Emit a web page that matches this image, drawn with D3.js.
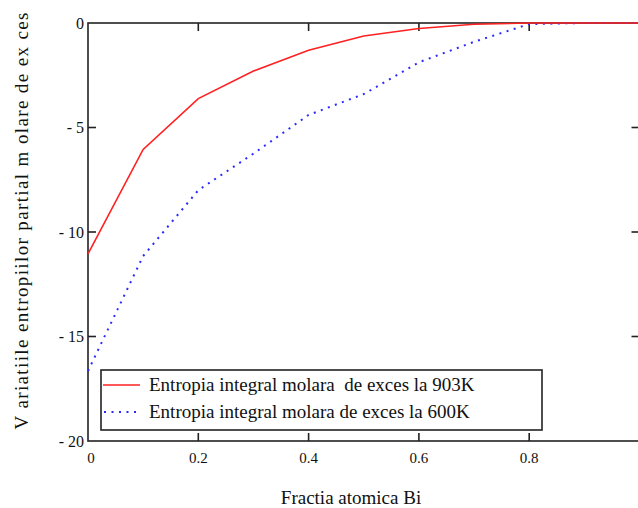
<!DOCTYPE html>
<html>
<head>
<meta charset="utf-8">
<script src="https://cdn.jsdelivr.net/npm/d3@7"></script>
</head>
<body style="margin:0;overflow:hidden;background:#fff">
<svg id="chart" width="638" height="508" style="display:block"></svg>
<script>
// ---- data ----
const xFrac = [0, 0.1, 0.2, 0.3, 0.4, 0.5, 0.6, 0.7, 0.8, 0.9, 1.0];
const s903 = [-11.05, -6.05, -3.62, -2.3, -1.3, -0.62, -0.26, -0.06, 0, 0, 0];
const s600 = [-16.65, -11.15, -8.0, -6.25, -4.4, -3.4, -1.88, -0.9, -0.05, 0, 0];
const xTicks = [0, 0.2, 0.4, 0.6, 0.8];
const xTickLabels = ["0", "0.2", "0.4", "0.6", "0.8"];
const yTicks = [0, -5, -10, -15, -20];
const yTickLabels = ["0", "- 5", "- 10", "- 15", "- 20"];
const seriesNames = ["Entropia integral molara  de exces la 903K", "Entropia integral molara de exces la 600K"];
const xTitle = "Fractia atomica Bi";
const yTitle = "V ariatiile entropiilor partial m olare de ex ces";

const FONT = "Liberation Serif";
const svg = d3.select("#chart");
const L = 88, R = 639.5, T = 23, B = 441;
const x = d3.scaleLinear().domain([0, 1]).range([L, R]);
const y = d3.scaleLinear().domain([-20, 0]).range([B, T]);

const axisColor = "#222";
// frame
svg.append("rect").attr("x", L).attr("y", T).attr("width", R - L).attr("height", B - T)
  .attr("fill", "none").attr("stroke", axisColor).attr("stroke-width", 1.6);

// inward ticks on all 4 sides
const tl = 8;
svg.append("g").selectAll("line").data(xTicks.slice(1)).join("line")
  .attr("x1", d => x(d)).attr("x2", d => x(d)).attr("y1", B).attr("y2", B - tl)
  .attr("stroke", axisColor).attr("stroke-width", 1.6);
svg.append("g").selectAll("line").data(xTicks.slice(1)).join("line")
  .attr("x1", d => x(d)).attr("x2", d => x(d)).attr("y1", T).attr("y2", T + tl)
  .attr("stroke", axisColor).attr("stroke-width", 1.6);
svg.append("g").selectAll("line").data(yTicks.slice(1, 4)).join("line")
  .attr("x1", L).attr("x2", L + tl).attr("y1", d => y(d)).attr("y2", d => y(d))
  .attr("stroke", axisColor).attr("stroke-width", 1.6);
svg.append("g").selectAll("line").data(yTicks.slice(1, 4)).join("line")
  .attr("x1", R).attr("x2", R - tl).attr("y1", d => y(d)).attr("y2", d => y(d))
  .attr("stroke", axisColor).attr("stroke-width", 1.6);

// tick labels
svg.selectAll("text.xl").data(xTicks).join("text").attr("class", "xl")
  .attr("font-family", FONT).attr("fill", "#111")
  .attr("x", d => x(d) + (d === 0 ? 3 : 0)).attr("y", 463)
  .attr("text-anchor", "middle").attr("font-size", 15)
  .text((d, i) => xTickLabels[i]);
svg.selectAll("text.yl").data(yTicks).join("text").attr("class", "yl")
  .attr("font-family", FONT).attr("fill", "#111")
  .attr("x", 84).attr("y", d => y(d) + 5.5)
  .attr("text-anchor", "end").attr("font-size", 16)
  .text((d, i) => yTickLabels[i]);

// titles
svg.append("text").attr("font-family", FONT).attr("fill", "#111")
  .attr("x", 351).attr("y", 504).attr("text-anchor", "middle")
  .attr("font-size", 19).text(xTitle);
svg.append("text").attr("font-family", FONT).attr("fill", "#111")
  .attr("transform", "translate(28,221) rotate(-90)")
  .attr("text-anchor", "middle").attr("font-size", 19)
  .attr("textLength", 417).attr("lengthAdjust", "spacing").text(yTitle);

// lines
const line = d3.line().x((d, i) => x(xFrac[i])).y(d => y(d));
svg.append("path").datum(s600).attr("d", line).attr("fill", "none")
  .attr("stroke", "#2a2aff").attr("stroke-width", 2).attr("stroke-dasharray", "2,5.5");
svg.append("path").datum(s903).attr("d", line).attr("fill", "none")
  .attr("stroke", "#ff2020").attr("stroke-width", 1.6);

// legend
svg.append("rect").attr("x", 101).attr("y", 370).attr("width", 441).attr("height", 60)
  .attr("fill", "#fff").attr("stroke", axisColor).attr("stroke-width", 1.6);
svg.append("line").attr("x1", 103).attr("x2", 140).attr("y1", 385).attr("y2", 385)
  .attr("stroke", "#ff2020").attr("stroke-width", 1.6);
svg.append("line").attr("x1", 104).attr("x2", 136).attr("y1", 412).attr("y2", 412)
  .attr("stroke", "#2a2aff").attr("stroke-width", 2).attr("stroke-dasharray", "2,5.5");
svg.append("text").attr("font-family", FONT).attr("fill", "#111")
  .attr("x", 149).attr("y", 391).attr("font-size", 19)
  .attr("xml:space", "preserve").text(seriesNames[0]);
svg.append("text").attr("font-family", FONT).attr("fill", "#111")
  .attr("x", 149).attr("y", 418).attr("font-size", 19)
  .text(seriesNames[1]);
</script>
</body>
</html>
